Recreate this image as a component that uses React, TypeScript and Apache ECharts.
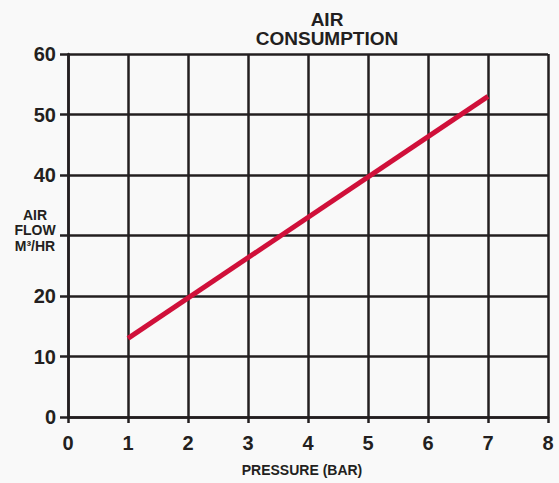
import React, { useEffect, useRef } from "react";
import * as echarts from "echarts";

const pressure = [1, 7];
const airFlow = [13, 53];
const xTicks = [0, 1, 2, 3, 4, 5, 6, 7, 8];
const yTicks = [0, 10, 20, 30, 40, 50, 60];
const yName = "AIR\nFLOW\nM³/HR";

export default function App() {
  const ref = useRef<HTMLDivElement>(null);
  useEffect(() => {
    document.body.style.margin = "0";
    const chart = echarts.init(ref.current!, undefined, { renderer: "svg" });
    const font = "'Liberation Sans', Arial, sans-serif";
    const ink = "#231f20";
    chart.setOption({
      animation: false,
      backgroundColor: "#f9f9f9",
      title: {
        text: "AIR\nCONSUMPTION",
        left: 322,
        top: 5,
        textAlign: "center",
        textStyle: { fontFamily: font, fontWeight: "bold", fontSize: 19, lineHeight: 19, color: ink },
      },
      grid: { left: 68, right: 11, top: 54, bottom: 66, containLabel: false, outerBoundsMode: "none" },
      graphic: [
        {
          type: "text",
          x: 35,
          y: 230,
          style: {
            text: yName,
            fontFamily: font,
            fontWeight: "bold",
            fontSize: 14,
            lineHeight: 15.5,
            fill: ink,
            align: "center",
            verticalAlign: "middle",
          },
        },
      ],
      xAxis: {
        type: "value",
        min: xTicks[0],
        max: xTicks[xTicks.length - 1],
        interval: 1,
        name: "PRESSURE (BAR)",
        nameLocation: "middle",
        nameGap: 46,
        nameTextStyle: { fontFamily: font, fontWeight: "bold", fontSize: 14, color: ink, padding: [0, 12, 0, 0] },
        axisLine: { show: true, lineStyle: { color: ink, width: 2.5 } },
        axisTick: { show: true, length: 6, lineStyle: { color: ink, width: 2.5 } },
        axisLabel: { margin: 16, fontFamily: font, fontWeight: "bold", fontSize: 20, color: ink },
        splitLine: { show: true, lineStyle: { color: ink, width: 2.5 } },
      },
      yAxis: {
        type: "value",
        min: yTicks[0],
        max: yTicks[yTicks.length - 1],
        interval: 10,
        axisLine: { show: true, lineStyle: { color: ink, width: 2.5 } },
        axisTick: { show: true, length: 8, lineStyle: { color: ink, width: 2.5 } },
        axisLabel: {
          margin: 12,
          fontFamily: font,
          fontWeight: "bold",
          fontSize: 20,
          color: ink,
          formatter: (v: number) => (v === 30 ? "" : String(v)),
        },
        splitLine: { show: true, lineStyle: { color: ink, width: 2.5 } },
      },
      series: [
        {
          type: "line",
          data: pressure.map((p, i) => [p, airFlow[i]]),
          symbol: "none",
          lineStyle: { color: "#d0103a", width: 5 },
        },
      ],
    });
    return () => chart.dispose();
  }, []);
  return <div ref={ref} style={{ width: 559, height: 483 }} />;
}
